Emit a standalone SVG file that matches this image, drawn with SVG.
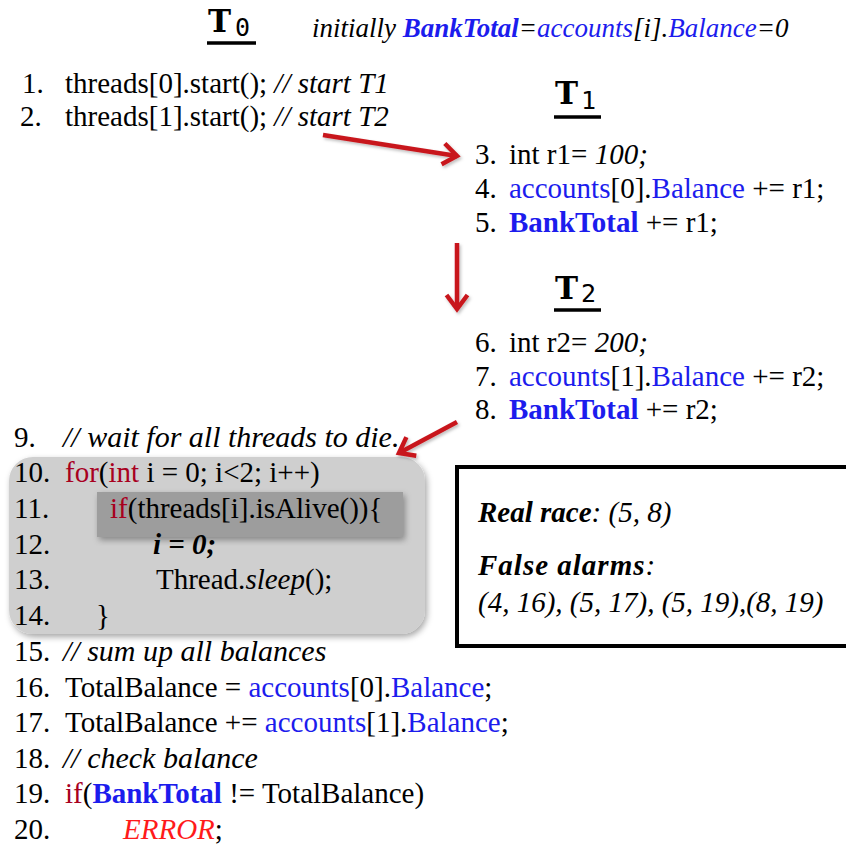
<svg xmlns="http://www.w3.org/2000/svg" width="846" height="846" viewBox="0 0 846 846">
  <style>
    text { font-family: "Liberation Serif", "Times New Roman", serif; font-size: 29px; fill: #000; }
    .it { font-style: italic; }
    .cm { font-style: italic; font-size: 30px; }
    .bi { font-style: italic; font-weight: bold; }
    .b { font-weight: bold; }
    .blue { fill: #1c1ced; }
    .kw { fill: #a8001e; }
    .err { fill: #ff1a1a; font-style: italic; }
    .title { font-family: "DejaVu Serif", "Courier New", serif; font-weight: bold; font-size: 31px; }
    .sub { font-family: "DejaVu Sans Mono", "Courier New", monospace; font-size: 25px; }
    .uline { stroke: #000; stroke-width: 3.5; }
    .arrow { stroke: #c8161d; stroke-width: 4.5; fill: none; marker-end: url(#head); filter: url(#ashadow); }
    .box-text { font-size: 29px; }
  </style>
  <defs>
    <marker id="head" markerUnits="userSpaceOnUse" markerWidth="30" markerHeight="30" viewBox="0 0 30 30" refX="25" refY="15" orient="auto">
      <path d="M11,4.5 L25,15 L11,25.5" fill="none" stroke="#c8161d" stroke-width="4.5" stroke-linejoin="miter" stroke-linecap="butt"/>
    </marker>
    <filter id="shadow" x="-10%" y="-10%" width="125%" height="130%">
      <feDropShadow dx="2" dy="3" stdDeviation="3" flood-color="#000" flood-opacity="0.35"/>
    </filter>
    <filter id="ashadow" filterUnits="userSpaceOnUse" x="0" y="0" width="846" height="846">
      <feDropShadow dx="1.5" dy="2" stdDeviation="1.5" flood-color="#000" flood-opacity="0.25"/>
    </filter>
  </defs>

  <rect width="846" height="846" fill="#fff"/>

  <!-- Main thread T0 -->
  <g id="t0-header">
    <text class="title" x="208" y="32">T</text>
    <text class="sub" x="235" y="36">0</text>
    <line class="uline" x1="207" y1="43" x2="256" y2="43"/>
    <text x="312" y="37" class="it" style="font-size:27px">initially <tspan class="bi blue">BankTotal</tspan>=<tspan class="blue">accounts</tspan>[i].<tspan class="blue">Balance</tspan>=0</text>
  </g>

  <g id="t0-start">
    <text x="22" y="93">1.</text>
    <text x="65" y="93">threads[0].start(); <tspan class="it">// start T1</tspan></text>
    <text x="20" y="126">2.</text>
    <text x="65" y="126">threads[1].start(); <tspan class="it">// start T2</tspan></text>
  </g>

  <!-- Thread T1 -->
  <g id="t1">
    <text class="title" x="555" y="104">T</text>
    <text class="sub" x="581" y="109">1</text>
    <line class="uline" x1="554" y1="117" x2="601" y2="117"/>
    <text x="475" y="164">3.</text>
    <text x="509" y="164">int r1= <tspan class="it">100;</tspan></text>
    <text x="475" y="198">4.</text>
    <text x="509" y="198"><tspan class="blue">accounts</tspan>[0].<tspan class="blue">Balance</tspan> += r1;</text>
    <text x="475" y="232">5.</text>
    <text x="509" y="232"><tspan class="b blue">BankTotal</tspan> += r1;</text>
  </g>

  <!-- Thread T2 -->
  <g id="t2">
    <text class="title" x="555" y="299">T</text>
    <text class="sub" x="581" y="302">2</text>
    <line class="uline" x1="554" y1="310" x2="601" y2="310"/>
    <text x="475" y="352">6.</text>
    <text x="509" y="352">int r2= <tspan class="it">200;</tspan></text>
    <text x="475" y="386">7.</text>
    <text x="509" y="386"><tspan class="blue">accounts</tspan>[1].<tspan class="blue">Balance</tspan> += r2;</text>
    <text x="475" y="419">8.</text>
    <text x="509" y="419"><tspan class="b blue">BankTotal</tspan> += r2;</text>
  </g>

  <!-- Join loop (lines 9-14) -->
  <g id="join-loop">
    <rect x="9" y="457" width="416" height="177" rx="24" ry="24" fill="#cfcfcf" filter="url(#shadow)"/>
    <rect x="97" y="492" width="306" height="45" fill="#9d9d9d" filter="url(#shadow)"/>
    <text x="14" y="447">9.</text>
    <text x="63" y="447" class="cm">// wait for all threads to die.</text>
    <text x="14" y="482">10.</text>
    <text x="65" y="482"><tspan class="kw">for</tspan>(<tspan class="kw">int</tspan> i = 0; i&lt;2; i++)</text>
    <text x="14" y="518">11.</text>
    <text x="110" y="518"><tspan class="kw">if</tspan>(threads[i].isAlive()){</text>
    <text x="14" y="554">12.</text>
    <text x="153" y="554" class="bi">i = 0;</text>
    <text x="14" y="589">13.</text>
    <text x="156" y="589">Thread.<tspan class="it">sleep</tspan>();</text>
    <text x="14" y="625">14.</text>
    <text x="96" y="625">}</text>
  </g>

  <!-- Balance check (lines 15-20) -->
  <g id="check">
    <text x="14" y="661">15.</text>
    <text x="63" y="661" class="cm">// sum up all balances</text>
    <text x="14" y="697">16.</text>
    <text x="65" y="697">TotalBalance = <tspan class="blue">accounts</tspan>[0].<tspan class="blue">Balance</tspan>;</text>
    <text x="14" y="732">17.</text>
    <text x="65" y="732">TotalBalance += <tspan class="blue">accounts</tspan>[1].<tspan class="blue">Balance</tspan>;</text>
    <text x="14" y="768">18.</text>
    <text x="63" y="768" class="cm">// check balance</text>
    <text x="14" y="803">19.</text>
    <text x="65" y="803"><tspan class="kw">if</tspan>(<tspan class="b blue">BankTotal</tspan> != TotalBalance)</text>
    <text x="14" y="839">20.</text>
    <text x="123" y="839"><tspan class="err">ERROR</tspan>;</text>
  </g>

  <!-- Race report -->
  <g id="race-report">
    <rect x="457" y="467" width="400" height="179" fill="#fff" stroke="#000" stroke-width="4"/>
    <text x="478" y="522" class="box-text it"><tspan class="bi">Real race</tspan>: (5, 8)</text>
    <text x="478" y="575" class="box-text it"><tspan class="bi" letter-spacing="1">False alarms</tspan>:</text>
    <text x="478" y="612" class="box-text it">(4, 16), (5, 17), (5, 19),(8, 19)</text>
  </g>

  <!-- Execution-order connectors -->
  <g id="connectors">
    <line class="arrow" x1="323" y1="135" x2="457" y2="156"/>
    <line class="arrow" x1="457" y1="243" x2="457" y2="309"/>
    <line class="arrow" x1="457" y1="422" x2="399" y2="453"/>
  </g>
</svg>
